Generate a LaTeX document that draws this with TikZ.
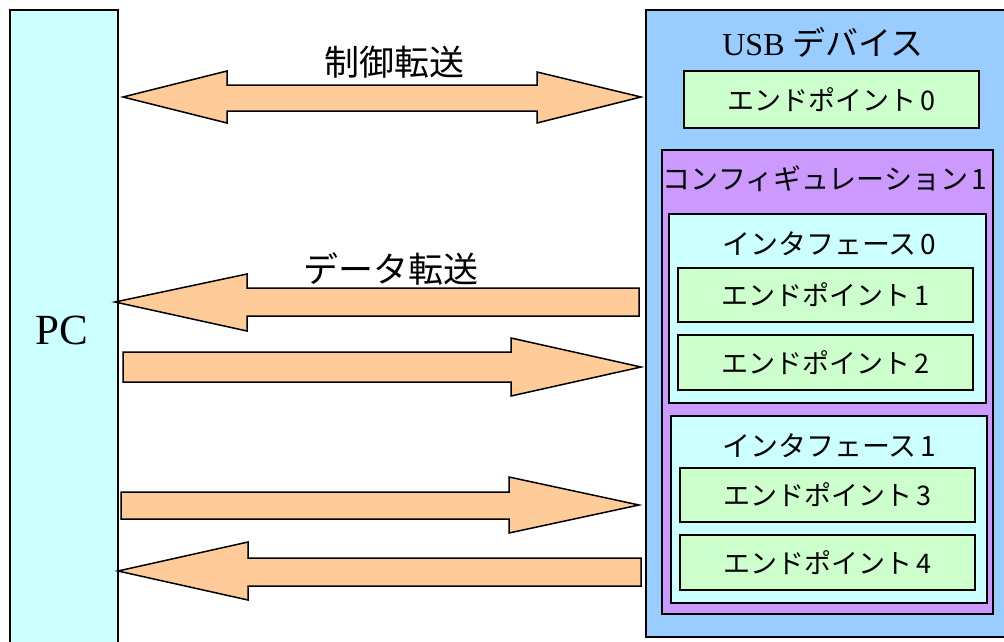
\documentclass[tikz,border=0pt]{standalone}
\usepackage{fontspec}
\setmainfont{Liberation Serif}
\newfontfamily\jpf{Noto Sans CJK JP}
\definecolor{pccyan}{HTML}{CCFFFF}
\definecolor{devblue}{HTML}{99CCFF}
\definecolor{epgreen}{HTML}{CCFFCC}
\definecolor{cfgpurple}{HTML}{CC99FF}
\definecolor{arrowc}{HTML}{FFCC99}
\newcommand{\dg}[1]{\hspace{0.12em}#1}
\begin{document}
\begin{tikzpicture}[x=1pt,y=-1pt,
  box/.style={draw=black, line width=1.5pt, inner sep=0pt, anchor=north west},
  ep/.style={draw=black, line width=1.5pt, inner sep=0pt, fill=epgreen, minimum width=295pt, minimum height=55pt, font=\jpf\fontsize{27}{30}\selectfont},
  blk/.style={draw=black, line width=1.5pt, fill=arrowc, line join=miter},
  lbl/.style={inner sep=0pt, font=\jpf\fontsize{28}{31}\selectfont},
  biglbl/.style={inner sep=0pt, font=\jpf\fontsize{35}{38}\selectfont}]
\useasboundingbox (0,0) rectangle (1004,641);
\clip (0,0) rectangle (1004,641);
% PC
\node[box, fill=pccyan, minimum width=108pt, minimum height=650pt] (pc) at (9,9) {};
\node[inner sep=0pt, font=\fontsize{43}{46}\selectfont] (pclbl) at (62,330) {PC};
% USB device
\node[box, fill=devblue, minimum width=380pt, minimum height=627pt] (dev) at (645,9) {};
\node[inner sep=0pt, font=\fontsize{32}{35}\selectfont] (devlbl) at (823,42) {USB {\jpf\fontsize{33}{35}\selectfont デバイス}};
\node[ep, minimum height=57pt] (ep0) at (831.5,99.5) {エンドポイント\dg{0}};
% configuration
\node[box, fill=cfgpurple, minimum width=331pt, minimum height=464pt] (cfg) at (661,149) {};
\node[lbl] (cfglbl) at (825,179) {コンフィギュレーション\dg{1}};
% interface 0
\node[box, fill=pccyan, minimum width=317pt, minimum height=189pt] (if0) at (668,213) {};
\node[lbl] (if0lbl) at (829,244) {インタフェース\dg{0}};
\node[ep, minimum height=54pt] (ep1) at (825.5,295) {エンドポイント\dg{1}};
\node[ep] (ep2) at (825.5,362.5) {エンドポイント\dg{2}};
% interface 1
\node[box, fill=pccyan, minimum width=316pt, minimum height=187pt] (if1) at (670,415) {};
\node[lbl] (if1lbl) at (829,446) {インタフェース\dg{1}};
\node[ep, minimum height=54pt] (ep3) at (827.5,495) {エンドポイント\dg{3}};
\node[ep] (ep4) at (827.5,562.5) {エンドポイント\dg{4}};
% control transfer (double arrow)
\draw[blk] (123,97) -- (227,71) -- (227,85) -- (537,85) -- (537,72) -- (641,97)
  -- (537,123) -- (537,111) -- (227,111) -- (227,123) -- cycle;
\node[biglbl] (ctl) at (394,62) {制御転送};
% data transfer arrows
\draw[blk] (639,288) -- (247,288) -- (247,274) -- (115,302) -- (247,331) -- (247,316) -- (639,316) -- cycle;
\draw[blk] (123,352) -- (511,352) -- (511,338) -- (641,367) -- (511,396) -- (511,382) -- (123,382) -- cycle;
\draw[blk] (121,492) -- (509,492) -- (509,477) -- (639,505) -- (509,533) -- (509,519) -- (121,519) -- cycle;
\draw[blk] (641,558) -- (248,558) -- (248,542) -- (118,571) -- (248,600) -- (248,586) -- (641,586) -- cycle;
\node[biglbl] (dat) at (391,269) {データ転送};
\end{tikzpicture}
\end{document}
